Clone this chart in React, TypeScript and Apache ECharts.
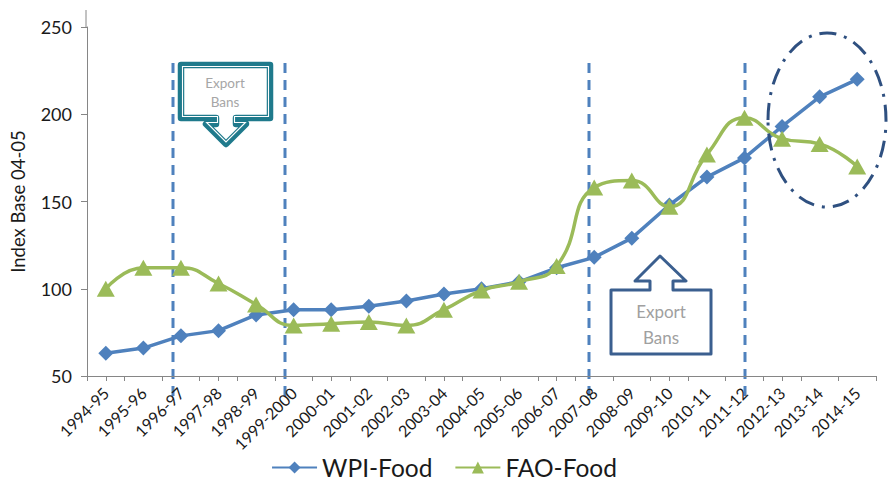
import React, { useEffect, useRef } from "react";
import * as echarts from "echarts";

const categories = [
  "1994-95", "1995-96", "1996-97", "1997-98", "1998-99", "1999-2000",
  "2000-01", "2001-02", "2002-03", "2003-04", "2004-05", "2005-06",
  "2006-07", "2007-08", "2008-09", "2009-10", "2010-11", "2011-12",
  "2012-13", "2013-14", "2014-15",
];
const wpiFood = [63, 66, 73, 76, 85, 88, 88, 90, 93, 97, 100, 104, 112, 118, 129, 148, 164, 175, 193, 210, 220];
const faoFood = [100, 112, 112, 103, 91, 79, 80, 81, 79, 88, 99, 104, 113, 158, 162, 147, 177, 198, 186, 183, 170];
const yTicks = { min: 50, max: 250, interval: 50 };

const FONT = "Lato, 'Liberation Sans', sans-serif";
const AXIS_GRAY = "#868686";
const BLUE = "#4f81bd";
const GREEN = "#9bbb59";
const TEAL = "#1f7a8c";

export default function App() {
  const ref = useRef<HTMLDivElement>(null);
  useEffect(() => {
    if (!ref.current) return;
    const chart = echarts.init(ref.current, undefined, { renderer: "svg" });
    const dashLine = (x: number) => ({
      type: "line",
      shape: { x1: x, y1: 63, x2: x, y2: 396 },
      style: { stroke: BLUE, lineWidth: 3, lineDash: [10, 7] },
      z: 0,
    });
    const callout1 = [
      [181, 65], [270, 65], [270, 118], [236, 118], [236, 124], [246, 124],
      [226, 144], [206, 124], [216, 124], [216, 118], [181, 118],
    ];
    const callout1Inner = [
      [182.5, 66.5], [268.5, 66.5], [268.5, 116.5], [234.5, 116.5], [234.5, 122.5],
      [245.4, 122.5], [226, 141.9], [206.6, 122.5], [217.5, 122.5], [217.5, 116.5],
      [182.5, 116.5],
    ];
    const callout2 = [
      [611, 290], [650, 290], [650, 281], [635, 281], [660, 256], [686, 281],
      [673, 281], [673, 290], [711, 290], [711, 354], [611, 354],
    ];
    const textEl = (x: number, y: number, text: string, size: number, fill: string) => ({
      type: "text",
      x,
      y,
      style: { text, fill, fontSize: size, fontFamily: FONT, align: "center", verticalAlign: "middle" },
      z: 13,
    });
    chart.setOption({
      animation: false,
      textStyle: { fontFamily: FONT },
      grid: { left: 86, right: 12, top: 27, bottom: 108, containLabel: false },
      legend: {
        top: 455,
        left: "center",
        padding: 0,
        itemWidth: 45,
        itemHeight: 15,
        itemGap: 22,
        textStyle: { fontSize: 24.5, lineHeight: 25, color: "#1a1a1a", fontFamily: FONT },
        data: ["WPI-Food", "FAO-Food"],
      },
      xAxis: [
        {
          type: "category",
          data: categories,
          boundaryGap: true,
          axisLine: { lineStyle: { color: AXIS_GRAY, width: 1 } },
          axisTick: { show: true, length: 5, lineStyle: { color: AXIS_GRAY } },
          axisLabel: {
            rotate: 45,
            interval: 0,
            fontSize: 16,
            color: "#1a1a1a",
            margin: 14,
            fontFamily: FONT,
          },
        },
        {
          type: "category",
          data: categories,
          position: "bottom",
          boundaryGap: true,
          axisLine: { show: false },
          axisTick: { show: true, alignWithLabel: true, length: 5, lineStyle: { color: AXIS_GRAY } },
          axisLabel: { show: false },
          splitLine: { show: false },
        },
      ],
      yAxis: {
        type: "value",
        min: yTicks.min,
        max: yTicks.max,
        interval: yTicks.interval,
        name: "Index Base 04-05",
        nameLocation: "middle",
        nameGap: 60,
        nameRotate: 90,
        nameTextStyle: { fontSize: 18.5, color: "#1a1a1a", fontFamily: FONT },
        axisLine: { show: true, lineStyle: { color: AXIS_GRAY, width: 1 } },
        axisTick: { show: true, length: 6, lineStyle: { color: AXIS_GRAY } },
        axisLabel: { fontSize: 18, color: "#1a1a1a", margin: 15, fontFamily: FONT },
        splitLine: { show: false },
      },
      series: [
        {
          name: "WPI-Food",
          type: "line",
          data: wpiFood,
          symbol: "diamond",
          symbolSize: 15,
          lineStyle: { color: BLUE, width: 3.5 },
          itemStyle: { color: BLUE },
          z: 3,
        },
        {
          name: "FAO-Food",
          type: "line",
          data: faoFood,
          smooth: 0.5,
          symbol: "triangle",
          symbolSize: [18, 16],
          lineStyle: { color: GREEN, width: 3.5 },
          itemStyle: { color: GREEN },
          z: 4,
        },
      ],
      graphic: [
        {
          type: "line",
          shape: { x1: 86, y1: 10, x2: 86, y2: 27 },
          style: { stroke: AXIS_GRAY, lineWidth: 1 },
        },
        dashLine(173),
        dashLine(285),
        dashLine(589),
        dashLine(745),
        {
          type: "polygon",
          shape: { points: callout1 },
          style: { fill: "#ffffff", stroke: TEAL, lineWidth: 6.5, lineJoin: "round" },
          z: 10,
        },
        {
          type: "polygon",
          shape: { points: callout1Inner },
          style: { fill: "none", stroke: "#ffffff", lineWidth: 1.1, lineJoin: "miter" },
          z: 11,
        },
        textEl(225, 83, "Export", 13.5, "#a6a6a6"),
        textEl(225, 102, "Bans", 13.5, "#a6a6a6"),
        {
          type: "polygon",
          shape: { points: callout2 },
          style: { fill: "#ffffff", stroke: "#3b5f8f", lineWidth: 3, lineJoin: "round" },
          z: 10,
        },
        textEl(661, 311, "Export", 17, "#a0a0a0"),
        textEl(661, 337, "Bans", 17, "#a0a0a0"),
        {
          type: "ellipse",
          shape: { cx: 827, cy: 120, rx: 59, ry: 87 },
          style: { fill: "none", stroke: "#2f5080", lineWidth: 3, lineDash: [17, 8, 3, 8] },
          z: 10,
        },
      ],
    });
    return () => chart.dispose();
  }, []);
  return (
    <div
      ref={ref}
      style={{ position: "absolute", left: 0, top: 0, width: 888, height: 484 }}
    />
  );
}
